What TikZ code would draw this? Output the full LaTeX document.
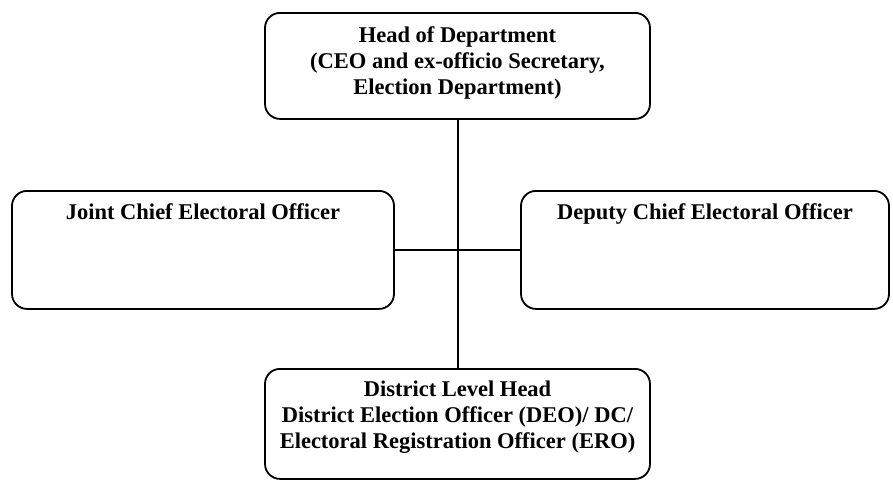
\documentclass[tikz,border=0pt]{standalone}
\usepackage{fontspec}
\setmainfont{Liberation Serif}
\usepackage{tikz}

\begin{document}
\begin{tikzpicture}[x=1pt, y=1pt, box/.style={draw,rounded corners=15pt,line width=1.8pt,anchor=north,align=center,inner ysep=0pt,text height=29pt,minimum width=385pt,font=\bfseries\fontsize{22.5}{26}\selectfont}, link/.style={line width=2pt}]
\useasboundingbox (0,0) rectangle (893,-480);
\node[box,text height=82pt,text depth=24pt] (head) at (457.5,-12) {Head of Department\\ (CEO and ex-officio Secretary,\\ Election Department)};
\node[box,text depth=89pt,minimum width=382pt] (joint) at (203,-190) {Joint Chief Electoral Officer};
\node[box,text depth=89pt,minimum width=368pt] (deputy) at (705,-190) {Deputy Chief Electoral Officer};
\node[box,text height=80pt,text depth=30pt] (district) at (457.5,-368) {District Level Head\\ District Election Officer (DEO)/ DC/\\ Electoral Registration Officer (ERO)};
\draw[link] (head) -- (district);
\draw[link] (joint) -- (deputy);
\end{tikzpicture}
\end{document}
